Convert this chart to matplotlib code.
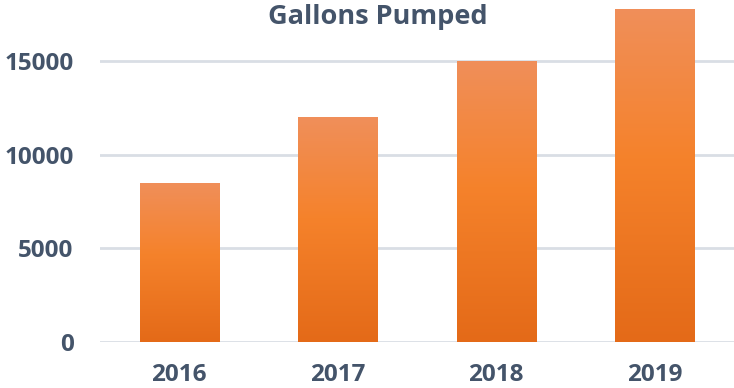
import matplotlib
matplotlib.use("Agg")
import matplotlib.pyplot as plt
import numpy as np
from matplotlib.colors import LinearSegmentedColormap

years = ["2016", "2017", "2018", "2019"]
gallons = [8500, 12000, 15000, 17800]
yticks = [0, 5000, 10000, 15000]
title = "Gallons Pumped"

text_color = "#44546A"
grid_color = "#D9DEE5"
plt.rcParams['font.family'] = ['Open Sans', 'DejaVu Sans']

fig = plt.figure(figsize=(7.34, 3.88), dpi=100)
ax = fig.add_axes([100/734, 46/388, 634/734, 337.2/388])
ax.set_xlim(-0.5, 3.5)
ax.set_ylim(0, 18000)

cmap = LinearSegmentedColormap.from_list(
    "bar", [(0.0, "#E46A18"), (0.55, "#F5822B"), (1.0, "#F08F5A")])
grad = np.linspace(0, 1, 256).reshape(-1, 1)

bars = ax.bar(range(len(years)), gallons, width=0.5, color="none",
              edgecolor="none", zorder=3)
for b in bars:
    x0, y0 = b.get_x(), b.get_y()
    w, h = b.get_width(), b.get_height()
    im = ax.imshow(grad, cmap=cmap, aspect="auto", origin="lower",
                   extent=[x0, x0 + w, y0, y0 + h], zorder=3,
                   interpolation="bilinear")
    im.set_clip_path(b)

ax.set_yticks(yticks)
ax.set_xticks(range(len(years)))
ax.set_xticklabels(years)
ax.grid(axis="y", color=grid_color, linewidth=2, zorder=0)
ax.set_axisbelow(True)
for s in ax.spines.values():
    s.set_visible(False)
ax.tick_params(axis="both", length=0, labelcolor=text_color, labelsize=17.5)
ax.tick_params(axis="y", pad=19)
ax.tick_params(axis="x", pad=15)
for lbl in ax.get_xticklabels() + ax.get_yticklabels():
    lbl.set_fontweight("bold")

fig.text(378/734, 1 - 17/388, title, ha="center", va="center",
         fontsize=19.5, fontweight="bold", color=text_color)

fig.savefig("out.png", dpi=100)
